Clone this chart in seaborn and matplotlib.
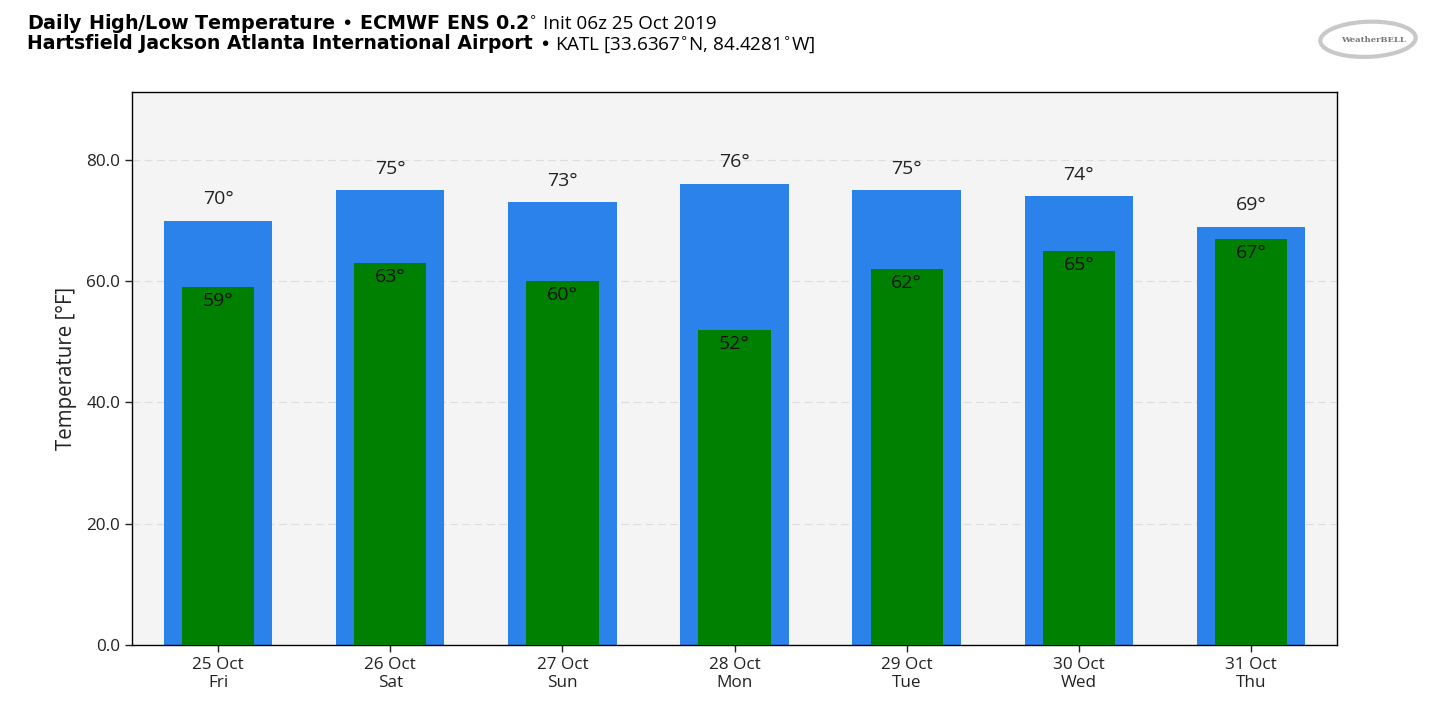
import matplotlib
matplotlib.use("Agg")
import matplotlib.pyplot as plt
import seaborn as sns
from matplotlib.patches import Ellipse

# Data
days = ["25 Oct\nFri", "26 Oct\nSat", "27 Oct\nSun", "28 Oct\nMon",
        "29 Oct\nTue", "30 Oct\nWed", "31 Oct\nThu"]
highs = [70, 75, 73, 76, 75, 74, 69]
lows = [59, 63, 60, 52, 62, 65, 67]

sns.set_style("white")
plt.rcParams['font.family'] = ['Open Sans', 'DejaVu Sans']

fig = plt.figure(figsize=(14.4, 7.14), dpi=100)
ax = fig.add_axes([0.0917, 0.0966, 0.8368, 0.7745])
ax.set_facecolor("#f4f4f4")

# high bars (wide, blue) and low bars (narrow, green)
sns.barplot(x=days, y=highs, color="#2b82ea", width=0.63, saturation=1,
            linewidth=0, ax=ax, zorder=2)
sns.barplot(x=days, y=lows, color="#008000", width=0.42, saturation=1,
            linewidth=0, ax=ax, zorder=3)

for i, (h, l) in enumerate(zip(highs, lows)):
    ax.text(i, h + 2.1, f"{h}°", ha="center", va="bottom", fontsize=14, color="#222222", zorder=4)
    ax.text(i, l - 0.85, f"{l}°", ha="center", va="top", fontsize=14, color="#111111", zorder=4)

ax.set_xlim(-0.5, len(days) - 0.5)
ax.set_ylim(0, max(highs) * 1.2)
ax.set_yticks([0, 20, 40, 60, 80])
ax.set_yticklabels([f"{v:.1f}" for v in [0, 20, 40, 60, 80]])
ax.yaxis.grid(True, linestyle=(0, (7, 4)), color="#dddddd", linewidth=0.8, zorder=0)
ax.set_axisbelow(True)
ax.tick_params(axis="both", labelsize=12.3, length=5, width=1, direction="out",
               bottom=True, left=True, colors="#222222")
for s in ax.spines.values():
    s.set_color("black")
    s.set_linewidth(1)
ax.set_ylabel("Temperature [°F]", fontsize=14.8, labelpad=7, color="#222222")
ax.set_xlabel("")

# Titles: bold part then normal part right after it
b1 = fig.text(0.0188, 0.9587, "Daily High/Low Temperature • ECMWF ENS 0.2$^{\\circ}$",
              fontsize=13.8, fontweight="bold", family="DejaVu Sans", color="black",
              ha="left", va="baseline")
b2 = fig.text(0.0188, 0.9307, "Hartsfield Jackson Atlanta International Airport",
              fontsize=13.6, fontweight="bold", family="DejaVu Sans", color="black",
              ha="left", va="baseline")
renderer = fig.canvas.get_renderer()
for b, s in [(b1, "Init 06z 25 Oct 2019"), (b2, "• KATL [33.6367$^{\\circ}$N, 84.4281$^{\\circ}$W]")]:
    ext = b.get_window_extent(renderer)
    x1 = fig.transFigure.inverted().transform((ext.x1 + 6, 0))[0]
    fig.text(x1, b.get_position()[1], s, fontsize=13.6, color="black", ha="left", va="baseline")

# logo
lax = fig.add_axes([0.915, 0.91, 0.07, 0.07])
lax.axis("off")
lax.add_patch(Ellipse((0.5, 0.5), 0.95, 0.7, angle=8, fill=False, edgecolor="#c8c8c8", linewidth=3))
lax.text(0.55, 0.48, "WeatherBELL", fontsize=6, color="#777777", ha="center", va="center",
         fontweight="bold", family="DejaVu Serif")
lax.set_xlim(0, 1)
lax.set_ylim(0, 1)

fig.savefig("out.png", dpi=100)
